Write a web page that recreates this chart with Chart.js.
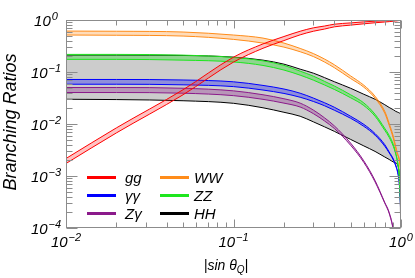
<!DOCTYPE html>
<html>
<head>
<meta charset="utf-8">
<script src="https://cdn.jsdelivr.net/npm/chart.js@4.4.0/dist/chart.umd.min.js"></script>
<style>
  html, body { margin: 0; padding: 0; background: #fff; }
  #wrap { width: 415px; height: 278px; }
</style>
</head>
<body>
<div id="wrap"><canvas id="chart" width="415" height="278"></canvas></div>
<script>
// |sin theta_Q| sample points
const sinTheta = [0.01, 0.02, 0.05, 0.1, 0.15, 0.2, 0.25, 0.3, 0.35, 0.4, 0.5, 0.6, 0.7, 0.8, 0.85, 0.9, 0.93, 0.95, 0.97, 0.98, 0.99, 0.995];

// branching ratios, upper / lower edge of each band
const ggHi = [0.00217, 0.00843, 0.0456, 0.193, 0.347, 0.481, 0.608, 0.707, 0.766, 0.83, 0.879, 0.92, 0.95, 0.97, 0.978, 0.986, 0.99, 0.993, 0.996, 0.998, 1.0, 1.0];
const ggLo = [0.00174, 0.00675, 0.0365, 0.155, 0.286, 0.402, 0.518, 0.608, 0.67, 0.739, 0.797, 0.845, 0.885, 0.915, 0.93, 0.948, 0.958, 0.965, 0.975, 0.98, 0.986, 0.99];

const wwHi = [0.613, 0.608, 0.587, 0.514, 0.449, 0.36, 0.284, 0.226, 0.177, 0.138, 0.0842, 0.0557, 0.0342, 0.0175, 0.0103, 0.00578, 0.00371, 0.00284, 0.00232, 0.00195, 0.00156, 0.00119];
const wwLo = [0.514, 0.509, 0.491, 0.424, 0.36, 0.301, 0.245, 0.198, 0.155, 0.121, 0.075, 0.051, 0.0313, 0.0161, 0.0094, 0.00528, 0.00339, 0.0026, 0.00222, 0.00186, 0.00149, 0.00114];

const zzHi = [0.218, 0.218, 0.211, 0.191, 0.164, 0.134, 0.1038, 0.0831, 0.0659, 0.0538, 0.0365, 0.0254, 0.0154, 0.00825, 0.00604, 0.00405, 0.00278, 0.00203, 0.00131, 0.00084, 0.00043, 0.00027];
const zzLo = [0.175, 0.175, 0.169, 0.156, 0.1337, 0.109, 0.0869, 0.0696, 0.0562, 0.0462, 0.032, 0.0226, 0.0141, 0.00755, 0.00553, 0.00371, 0.00266, 0.00195, 0.00125, 0.0008, 0.00041, 0.00026];

const aaHi = [0.0718, 0.0718, 0.0702, 0.0648, 0.0552, 0.0471, 0.0391, 0.0315, 0.0256, 0.021, 0.0141, 0.00984, 0.00655, 0.00401, 0.0029, 0.00213, 0.00163, 0.00131, 0.00091, 0.00064, 0.000376, 0.00022];
const aaLo = [0.0582, 0.0582, 0.0567, 0.0524, 0.045, 0.0387, 0.0327, 0.0271, 0.0224, 0.0184, 0.0129, 0.00901, 0.0061, 0.00374, 0.00278, 0.00203, 0.00156, 0.00125, 0.00087, 0.00061, 0.00036, 0.00021];

const zaHi = [0.0503, 0.0503, 0.0487, 0.0434, 0.0365, 0.0306, 0.0252, 0.0185, 0.0131, 0.0092, 0.0043, 0.00195, 0.00082, 0.00031, 0.0002, 0.000093, 0.00004];
const zaLo = [0.0403, 0.0403, 0.0391, 0.0351, 0.0298, 0.0252, 0.0212, 0.0158, 0.0114, 0.0082, 0.0039, 0.00182, 0.00077, 0.0003, 0.00019, 0.000089, 0.000038];

const hhHi = [0.211, 0.211, 0.208, 0.193, 0.169, 0.1416, 0.1134, 0.0949, 0.0778, 0.065, 0.0487, 0.0373, 0.0299, 0.0235, 0.0208, 0.0188, 0.0175, 0.017, 0.0165, 0.0162, 0.016, 0.0159];
const hhLo = [0.0299, 0.0295, 0.028, 0.025, 0.0205, 0.0168, 0.0141, 0.011, 0.00881, 0.00722, 0.00506, 0.00379, 0.00297, 0.00232, 0.00208, 0.00186, 0.00178, 0.00167, 0.00128, 0.00082, 0.00034, 0.000126];

const legendLabels = ['gg', 'γγ', 'Zγ', 'WW', 'ZZ', 'HH'];
const xDecades = [-2, -1, 0];
const yDecades = [-4, -3, -2, -1, 0];

const lineColors = ['#ff0000', '#0000ff', '#8b1a8b', '#ff8c1a', '#1ee61e', '#000000'];
const shadeColors = ['rgba(255,40,40,0.28)', 'rgba(0,0,255,0.3)', 'rgba(139,26,139,0.3)', 'rgba(255,140,26,0.3)', 'rgba(30,230,30,0.35)', '#cccccc'];

function pts(vals) {
    return vals.map((v, i) => ({ x: sinTheta[i], y: v }));
}

function band(name, hi, lo, idx) {
    return [
        { label: name, data: pts(hi), borderColor: lineColors[idx], borderWidth: 1,
          pointRadius: 0, fill: false, cubicInterpolationMode: 'monotone' },
        { label: name, data: pts(lo), borderColor: lineColors[idx], borderWidth: 1,
          pointRadius: 0, fill: '-1', backgroundColor: shadeColors[idx], cubicInterpolationMode: 'monotone' }
    ];
}

const FONT = '"Liberation Sans", Arial, sans-serif';

function drawPow(ctx, exp, cx, baseline) {
    ctx.font = 'italic 15px ' + FONT;
    const w1 = ctx.measureText('10').width;
    ctx.font = 'italic 11px ' + FONT;
    const w2 = ctx.measureText(exp).width;
    const x0 = cx - (w1 + w2 + 1) / 2;
    ctx.textAlign = 'left';
    ctx.textBaseline = 'alphabetic';
    ctx.font = 'italic 15px ' + FONT;
    ctx.fillText('10', x0, baseline);
    ctx.font = 'italic 11px ' + FONT;
    ctx.fillText(exp, x0 + w1 + 1, baseline - 6);
}

// ROOT-like frame: inward ticks on all sides, labels and legend
const rootFrame = {
    id: 'rootFrame',
    afterDraw(chart) {
        const ctx = chart.ctx, a = chart.chartArea;
        const xs = chart.scales.x, ys = chart.scales.y;
        const L = Math.round(a.left) + 0.5, R = Math.round(a.right) - 0.5;
        const T = Math.round(a.top) + 0.5, B = Math.round(a.bottom) - 0.5;
        ctx.save();
        ctx.strokeStyle = '#8c8c8c';
        ctx.lineWidth = 1;
        ctx.strokeRect(L, T, R - L, B - T);

        ctx.beginPath();
        xDecades.forEach(d => {
            const top = d === 0 ? 1 : 9;
            for (let m = 1; m <= top; m++) {
                const px = Math.round(xs.getPixelForValue(m * Math.pow(10, d))) + 0.5;
                const len = m === 1 ? 8 : 5;
                ctx.moveTo(px, B); ctx.lineTo(px, B - len);
                ctx.moveTo(px, T); ctx.lineTo(px, T + len);
            }
        });
        yDecades.forEach(d => {
            const top = d === 0 ? 1 : 9;
            for (let m = 1; m <= top; m++) {
                const py = Math.round(ys.getPixelForValue(m * Math.pow(10, d))) + 0.5;
                const len = m === 1 ? 11 : 6;
                ctx.moveTo(L, py); ctx.lineTo(L + len, py);
                ctx.moveTo(R, py); ctx.lineTo(R - len, py);
            }
        });
        ctx.stroke();

        ctx.fillStyle = '#000';
        yDecades.forEach(d => {
            const py = ys.getPixelForValue(Math.pow(10, d));
            drawPow(ctx, d === 0 ? '0' : '\u2212' + (-d), 46, py + 6);
        });
        xDecades.forEach(d => {
            const px = xs.getPixelForValue(Math.pow(10, d));
            drawPow(ctx, d === 0 ? '0' : '\u2212' + (-d), px, B + 19.5);
        });

        // axis titles
        ctx.save();
        ctx.translate(15.5, 122);
        ctx.rotate(-Math.PI / 2);
        ctx.font = 'italic 18px ' + FONT;
        ctx.textAlign = 'center';
        ctx.textBaseline = 'alphabetic';
        ctx.fillText('Branching Ratios', 0, 0);
        ctx.restore();

        ctx.font = 'italic 14px ' + FONT;
        const t1 = '|sin \u03b8';
        const w1 = ctx.measureText(t1).width;
        ctx.font = 'italic 10px ' + FONT;
        const wq = ctx.measureText('Q').width;
        ctx.font = 'italic 14px ' + FONT;
        const w3 = ctx.measureText('|').width;
        let x0 = 226 - (w1 + wq + w3) / 2;
        ctx.textAlign = 'left';
        ctx.fillText(t1, x0, 270);
        ctx.font = 'italic 10px ' + FONT;
        ctx.fillText('Q', x0 + w1, 273);
        ctx.font = 'italic 14px ' + FONT;
        ctx.fillText('|', x0 + w1 + wq, 270);

        // legend
        const rows = [177.5, 195.5, 213.5];
        ctx.lineWidth = 3;
        legendLabels.forEach((lab, i) => {
            const col = i < 3 ? 0 : 1;
            const y = rows[i % 3];
            const lx = col === 0 ? 87 : 160;
            ctx.strokeStyle = lineColors[i];
            ctx.beginPath();
            ctx.moveTo(lx, y); ctx.lineTo(lx + 29, y);
            ctx.stroke();
            ctx.fillStyle = '#000';
            ctx.font = 'italic 15px ' + FONT;
            ctx.fillText(lab, col === 0 ? 125 : 194, y + 5);
        });
        ctx.restore();
    }
};

new Chart(document.getElementById('chart'), {
    type: 'line',
    data: {
        datasets: [
            ...band('gg', ggHi, ggLo, 0),
            ...band('WW', wwHi, wwLo, 3),
            ...band('ZZ', zzHi, zzLo, 4),
            ...band('γγ', aaHi, aaLo, 1),
            ...band('Zγ', zaHi, zaLo, 2),
            ...band('HH', hhHi, hhLo, 5)
        ]
    },
    options: {
        responsive: false,
        animation: false,
        layout: { padding: { left: 66, right: 14, top: 20, bottom: 50 } },
        plugins: { legend: { display: false }, tooltip: { enabled: false } },
        scales: {
            x: { type: 'logarithmic', min: 0.01, max: 1, display: false },
            y: { type: 'logarithmic', min: 1e-4, max: 1, display: false }
        }
    },
    plugins: [rootFrame]
});
</script>
</body>
</html>
